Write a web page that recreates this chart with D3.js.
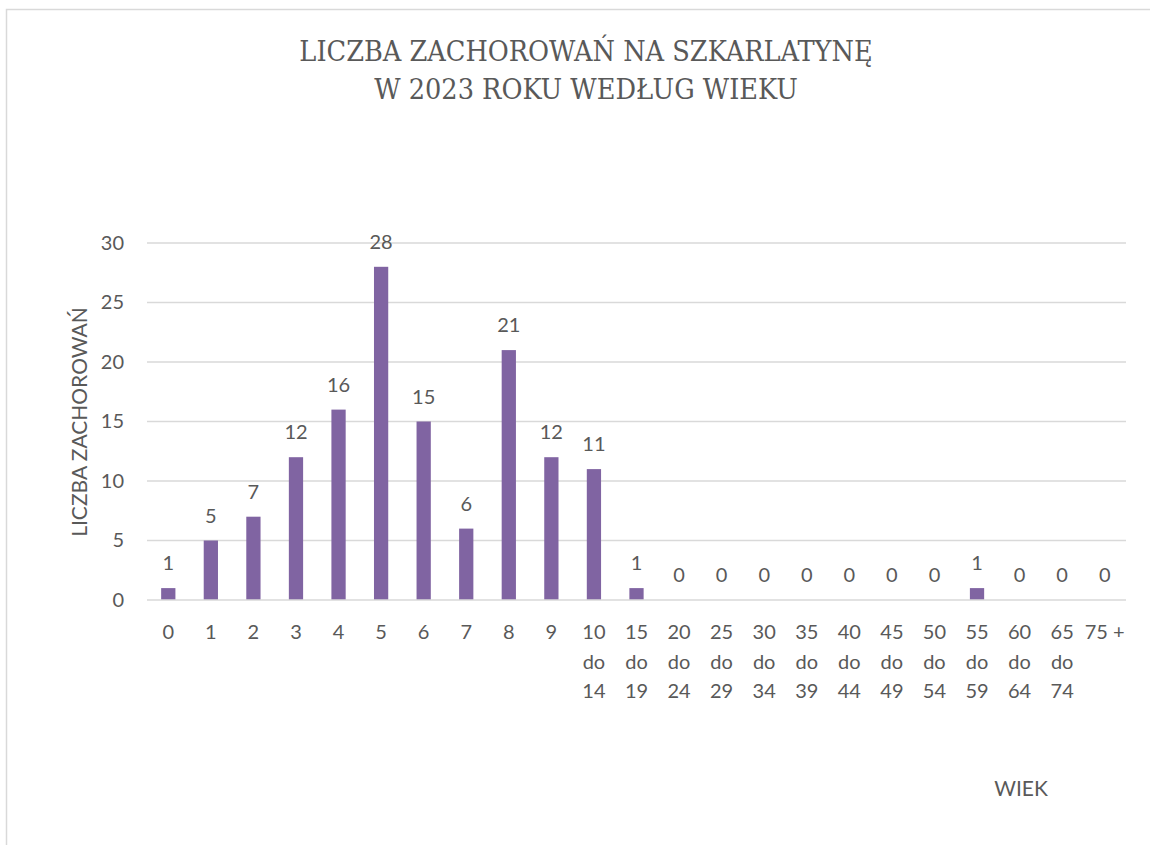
<!DOCTYPE html>
<html>
<head>
<meta charset="utf-8">
<script src="https://cdn.jsdelivr.net/npm/d3@7"></script>
<style>
  body { margin: 0; background: #fff; }
  svg text { fill: #595959; }
</style>
</head>
<body>
<svg id="chart" width="1150" height="845"></svg>
<script>
// age groups (x axis) - multi-line labels split on "\n"
var categories = ["0", "1", "2", "3", "4", "5", "6", "7", "8", "9",
    "10\ndo\n14", "15\ndo\n19", "20\ndo\n24", "25\ndo\n29", "30\ndo\n34", "35\ndo\n39",
    "40\ndo\n44", "45\ndo\n49", "50\ndo\n54", "55\ndo\n59", "60\ndo\n64", "65\ndo\n74", "75 +"];

// number of cases per age group
var cases = [1, 5, 7, 12, 16, 28, 15, 6, 21, 12, 11, 1, 0, 0, 0, 0, 0, 0, 0, 1, 0, 0, 0];

var y_ticks = [0, 5, 10, 15, 20, 25, 30];

var title_lines = ["LICZBA ZACHOROWAŃ NA SZKARLATYNĘ", "W 2023 ROKU WEDŁUG WIEKU"];

var data = categories.map(function(c, i){ return {cat: c, val: cases[i]}; });

var font = "Lato, 'Open Sans', sans-serif";

chart();

function chart() {
    var svg = d3.select("#chart"),
        plot = {left: 147, right: 1126, top: 243, bottom: 600};

    // chart area border (runs off the right and bottom edges)
    svg.append("rect")
        .attr("x", 6.5).attr("y", 9.5)
        .attr("width", 1200).attr("height", 900)
        .attr("fill", "none").attr("stroke", "#d9d9d9").attr("stroke-width", 1.5);

    var x = d3.scaleBand()
        .domain(categories)
        .range([plot.left, plot.right])
        .paddingInner(0.665)
        .paddingOuter(0.3325);

    var y = d3.scaleLinear()
        .domain([0, 30])
        .range([plot.bottom, plot.top]);

    // gridlines
    svg.append("g").selectAll("line").data(y_ticks.filter(function(d){ return d > 0; }))
        .enter().append("line")
        .attr("x1", plot.left).attr("x2", plot.right)
        .attr("y1", function(d){ return y(d); }).attr("y2", function(d){ return y(d); })
        .attr("stroke", "#d9d9d9").attr("stroke-width", 1.5);

    // y axis labels
    var yAxis = svg.append("g")
        .attr("transform", `translate(${plot.left - 23},0)`)
        .call(d3.axisLeft(y).tickValues(y_ticks).tickSize(0).tickPadding(0));
    yAxis.select(".domain").remove();
    yAxis.selectAll("text")
        .style("font-family", font)
        .style("font-size", "20px")
        .attr("fill", "#595959");

    // bars
    svg.append("g").attr("class", "bars").selectAll("rect").data(data)
        .enter().append("rect")
        .attr("x", function(d){ return x(d.cat); })
        .attr("width", x.bandwidth())
        .attr("y", function(d){ return y(d.val); })
        .attr("height", function(d){ return y(0) - y(d.val); })
        .attr("fill", "#8064a2");

    // x axis line
    svg.append("line")
        .attr("x1", plot.left).attr("x2", plot.right)
        .attr("y1", y(0)).attr("y2", y(0))
        .attr("stroke", "#d9d9d9").attr("stroke-width", 1.5);

    // value labels
    svg.append("g").selectAll("text").data(data)
        .enter().append("text")
        .attr("x", function(d){ return x(d.cat) + x.bandwidth() / 2; })
        .attr("y", function(d){ return y(d.val) - 18; })
        .attr("text-anchor", "middle")
        .style("font-family", font)
        .style("font-size", "20px")
        .text(function(d){ return d.val; });

    // category labels
    var catLabels = svg.append("g").selectAll("text").data(categories)
        .enter().append("text")
        .attr("x", function(d){ return x(d) + x.bandwidth() / 2; })
        .attr("y", 639)
        .attr("text-anchor", "middle")
        .style("font-family", font)
        .style("font-size", "20px");
    catLabels.each(function(d){
        var t = d3.select(this);
        var cx = t.attr("x");
        d.split("\n").forEach(function(line, i){
            t.append("tspan").attr("x", cx).attr("dy", i === 0 ? 0 : 29.5).text(line);
        });
    });

    // title
    svg.append("g").selectAll("text").data(title_lines)
        .enter().append("text")
        .attr("x", 586)
        .attr("y", function(d, i){ return 61 + i * 38; })
        .attr("text-anchor", "middle")
        .style("font-family", "'DejaVu Serif Condensed', 'Liberation Serif', serif")
        .style("font-stretch", "condensed")
        .style("font-size", "28.5px")
        .text(function(d){ return d; });

    // axis titles
    svg.append("text")
        .attr("transform", "translate(87,422) rotate(-90)")
        .attr("text-anchor", "middle")
        .style("font-family", font)
        .style("font-size", "21px")
        .text("LICZBA ZACHOROWAŃ");

    svg.append("text")
        .attr("x", 1021).attr("y", 796)
        .attr("text-anchor", "middle")
        .style("font-family", font)
        .style("font-size", "21px")
        .text("WIEK");
}
</script>
</body>
</html>
